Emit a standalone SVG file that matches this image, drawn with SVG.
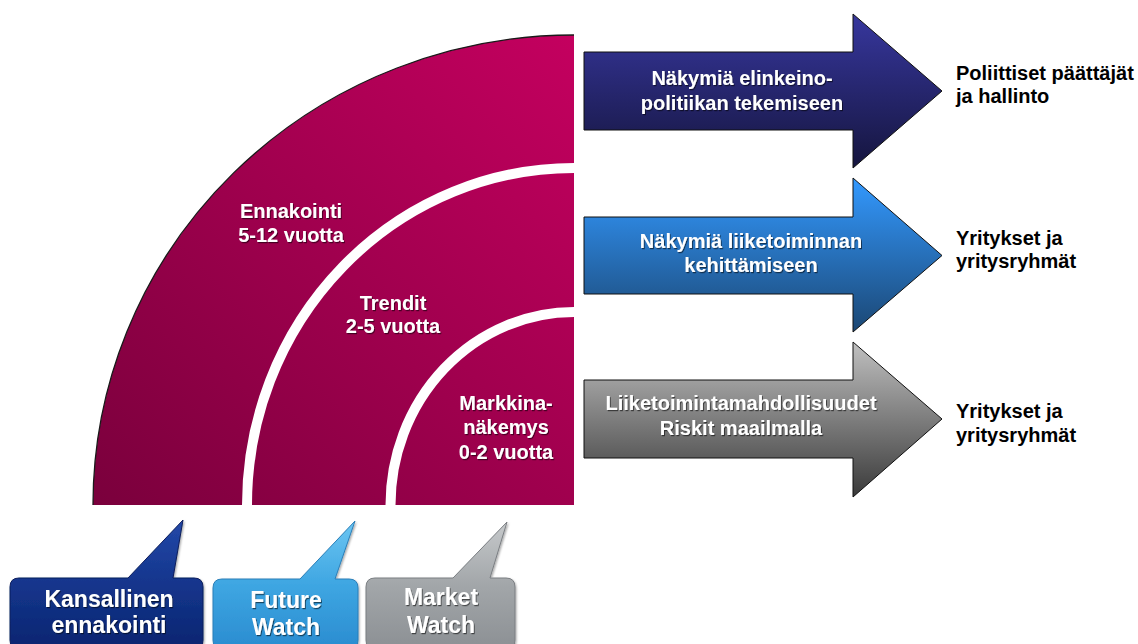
<svg xmlns="http://www.w3.org/2000/svg" width="1138" height="644" viewBox="0 0 1138 644">
  <defs>
    <linearGradient id="gPie" x1="574" y1="35" x2="93" y2="505" gradientUnits="userSpaceOnUse">
      <stop offset="0" stop-color="#c4005f"/>
      <stop offset="1" stop-color="#7a003c"/>
    </linearGradient>
    <linearGradient id="gNavy" x1="0" y1="0" x2="0" y2="1">
      <stop offset="0" stop-color="#37379e"/>
      <stop offset="1" stop-color="#15153e"/>
    </linearGradient>
    <linearGradient id="gBlue" x1="0" y1="0" x2="0" y2="1">
      <stop offset="0" stop-color="#3399ff"/>
      <stop offset="1" stop-color="#1b4774"/>
    </linearGradient>
    <linearGradient id="gGrey" x1="0" y1="0" x2="0" y2="1">
      <stop offset="0" stop-color="#c0c0c0"/>
      <stop offset="1" stop-color="#3a3a3a"/>
    </linearGradient>
    <linearGradient id="gCallNavy" x1="0" y1="0" x2="0" y2="1">
      <stop offset="0" stop-color="#2348a8"/>
      <stop offset="0.5" stop-color="#14358c"/>
      <stop offset="1" stop-color="#0b2570"/>
    </linearGradient>
    <linearGradient id="gCallBlue" x1="0" y1="0" x2="0" y2="1">
      <stop offset="0" stop-color="#6cc6f2"/>
      <stop offset="0.5" stop-color="#3ea6e2"/>
      <stop offset="1" stop-color="#2a8cd0"/>
    </linearGradient>
    <linearGradient id="gCallGrey" x1="0" y1="0" x2="0" y2="1">
      <stop offset="0" stop-color="#c6c9cb"/>
      <stop offset="0.5" stop-color="#a2a6a9"/>
      <stop offset="1" stop-color="#8c9094"/>
    </linearGradient>
    <filter id="shadow" x="-10%" y="-30%" width="120%" height="160%">
      <feDropShadow dx="1" dy="1.2" stdDeviation="0.6" flood-color="#000" flood-opacity="0.55"/>
    </filter>
    <filter id="boxShadow" x="-10%" y="-10%" width="120%" height="130%">
      <feDropShadow dx="1" dy="1.5" stdDeviation="1.2" flood-color="#000" flood-opacity="0.35"/>
    </filter>
  </defs>
  <style>
    .lbl { font-family: "Liberation Sans", Arial, sans-serif; font-weight: bold; font-size: 20px; fill: #fff; text-anchor: middle; }
    .side { font-family: "Liberation Sans", Arial, sans-serif; font-weight: bold; font-size: 20px; fill: #000; }
    .call { font-family: "Liberation Sans", Arial, sans-serif; font-weight: bold; font-size: 23px; fill: #fff; text-anchor: middle; }
    .arrow { stroke: #111; stroke-width: 1; }
    .band { fill: none; stroke: #fff; stroke-width: 10; }
  </style>

  <!-- Quarter-circle time horizons -->
  <g id="horizons">
    <path d="M574 505 L93 505 A481 470 0 0 1 574 35 Z" fill="url(#gPie)"/>
    <path d="M93 505 A481 470 0 0 1 574 35" fill="none" stroke="#1a1a1a" stroke-width="1.3"/>
    <path class="band" d="M247 505 A327 337 0 0 1 574 168"/>
    <path class="band" d="M390.5 505 A183.5 193 0 0 1 574 312"/>
  </g>
  <g id="ennakointi" filter="url(#shadow)">
    <text class="lbl" x="291" y="218">Ennakointi</text>
    <text class="lbl" x="291" y="242">5-12 vuotta</text>
  </g>
  <g id="trendit" filter="url(#shadow)">
    <text class="lbl" x="393" y="310">Trendit</text>
    <text class="lbl" x="393" y="333">2-5 vuotta</text>
  </g>
  <g id="markkinanakemys" filter="url(#shadow)">
    <text class="lbl" x="506" y="410">Markkina-</text>
    <text class="lbl" x="506" y="434">näkemys</text>
    <text class="lbl" x="506" y="459">0-2 vuotta</text>
  </g>

  <!-- Outcome arrows -->
  <g id="connectors">
    <polygon class="arrow" fill="url(#gNavy)" points="584,52 853,52 853,14 942,91 853,168 853,130 584,130"/>
    <polygon class="arrow" fill="url(#gBlue)" points="584,217 853,217 853,178 942,255.5 853,332 853,294 584,294"/>
    <polygon class="arrow" fill="url(#gGrey)" points="584,380 853,380 853,342 942,419 853,497 853,458 584,458"/>
  </g>
  <g id="arrow-policy" filter="url(#shadow)">
    <text class="lbl" x="742" y="85">Näkymiä elinkeino-</text>
    <text class="lbl" x="742" y="110">politiikan tekemiseen</text>
  </g>
  <g id="arrow-business" filter="url(#shadow)">
    <text class="lbl" x="751" y="248">Näkymiä liiketoiminnan</text>
    <text class="lbl" x="751" y="272">kehittämiseen</text>
  </g>
  <g id="arrow-markets" filter="url(#shadow)">
    <text class="lbl" x="741" y="410">Liiketoimintamahdollisuudet</text>
    <text class="lbl" x="741" y="435">Riskit maailmalla</text>
  </g>

  <!-- Audiences -->
  <g id="audience-policy">
    <text class="side" x="956" y="80">Poliittiset päättäjät</text>
    <text class="side" x="956" y="103">ja hallinto</text>
  </g>
  <g id="audience-business">
    <text class="side" x="956" y="245">Yritykset ja</text>
    <text class="side" x="956" y="268">yritysryhmät</text>
  </g>
  <g id="audience-markets">
    <text class="side" x="956" y="418">Yritykset ja</text>
    <text class="side" x="956" y="442">yritysryhmät</text>
  </g>

  <!-- Programme callouts -->
  <g id="kansallinen-ennakointi">
    <path filter="url(#boxShadow)" fill="url(#gCallNavy)" stroke="#0a1e5c" stroke-width="1"
          d="M19 578 L128 578 L183 520 L173 578 L194 578 Q203 578 203 587 L203 640 Q203 649 194 649 L19 649 Q10 649 10 640 L10 587 Q10 578 19 578 Z"/>
    <g filter="url(#shadow)">
      <text class="call" x="109" y="607">Kansallinen</text>
      <text class="call" x="109" y="633">ennakointi</text>
    </g>
  </g>
  <g id="future-watch">
    <path filter="url(#boxShadow)" fill="url(#gCallBlue)" stroke="#2a7fb8" stroke-width="1"
          d="M222 579 L300 579 L355 521 L335 579 L349 579 Q358 579 358 588 L358 640 Q358 649 349 649 L222 649 Q213 649 213 640 L213 588 Q213 579 222 579 Z"/>
    <g filter="url(#shadow)">
      <text class="call" x="286" y="608">Future</text>
      <text class="call" x="286" y="635">Watch</text>
    </g>
  </g>
  <g id="market-watch">
    <path filter="url(#boxShadow)" fill="url(#gCallGrey)" stroke="#7a7e82" stroke-width="1"
          d="M375 578 L453 578 L507 522 L490 578 L506 578 Q515 578 515 587 L515 640 Q515 649 506 649 L375 649 Q366 649 366 640 L366 587 Q366 578 375 578 Z"/>
    <g filter="url(#shadow)">
      <text class="call" x="441" y="605">Market</text>
      <text class="call" x="441" y="633">Watch</text>
    </g>
  </g>
</svg>
